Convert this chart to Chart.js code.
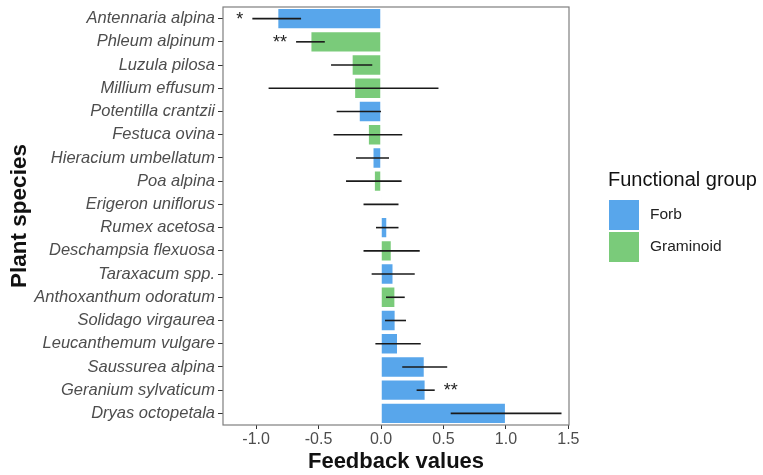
<!DOCTYPE html>
<html>
<head>
<meta charset="utf-8">
<script src="https://cdn.jsdelivr.net/npm/chart.js@4/dist/chart.umd.min.js"></script>
<style>
  html, body { margin: 0; padding: 0; background: #fff; }
  #wrap { width: 763px; height: 475px; }
</style>
</head>
<body>
<div id="wrap"><canvas id="chart" width="763" height="475"></canvas></div>
<script>
// data
const species = ['Antennaria alpina', 'Phleum alpinum', 'Luzula pilosa', 'Millium effusum',
    'Potentilla crantzii', 'Festuca ovina', 'Hieracium umbellatum', 'Poa alpina',
    'Erigeron uniflorus', 'Rumex acetosa', 'Deschampsia flexuosa', 'Taraxacum spp.',
    'Anthoxanthum odoratum', 'Solidago virgaurea', 'Leucanthemum vulgare',
    'Saussurea alpina', 'Geranium sylvaticum', 'Dryas octopetala'];
const groups = ['Forb', 'Graminoid', 'Graminoid', 'Graminoid', 'Forb', 'Graminoid', 'Forb', 'Graminoid',
    'Forb', 'Forb', 'Graminoid', 'Forb', 'Graminoid', 'Forb', 'Forb', 'Forb', 'Forb', 'Forb'];
const feedback = [-0.83, -0.565, -0.235, -0.215, -0.178, -0.105, -0.068, -0.057,
    0.003, 0.05, 0.086, 0.1, 0.115, 0.117, 0.136, 0.35, 0.357, 1.0];
const lower = [-1.03, -0.68, -0.40, -0.90, -0.355, -0.38, -0.20, -0.28,
    -0.14, -0.04, -0.14, -0.075, 0.04, 0.032, -0.045, 0.17, 0.285, 0.558];
const upper = [-0.64, -0.45, -0.07, 0.46, 0.0, 0.17, 0.064, 0.165,
    0.14, 0.14, 0.31, 0.27, 0.19, 0.20, 0.318, 0.53, 0.43, 1.445];
const signif = ['*', '**', '', '', '', '', '', '', '', '', '', '', '', '', '', '', '**', ''];
const xTicks = [-1.0, -0.5, 0.0, 0.5, 1.0, 1.5];

const groupNames = ['Forb', 'Graminoid'];
const groupColors = { Forb: '#58A6EB', Graminoid: '#7ACB7A' };
const FONT = '"Liberation Sans", Arial, sans-serif';

// error bars, significance stars, panel border and legend
const extras = {
    id: 'extras',
    afterDatasetsDraw(chart) {
        const c = chart.ctx;
        const xs = chart.scales.x, ys = chart.scales.y;
        c.save();
        c.strokeStyle = '#1a1a1a';
        c.lineWidth = 1.6;
        species.forEach((s, i) => {
            const y = ys.getPixelForValue(i);
            c.beginPath();
            c.moveTo(xs.getPixelForValue(lower[i]), y);
            c.lineTo(xs.getPixelForValue(upper[i]), y);
            c.stroke();
            if (signif[i]) {
                c.fillStyle = '#222';
                c.font = '18px ' + FONT;
                c.textBaseline = 'middle';
                if (feedback[i] < 0) {
                    c.textAlign = 'right';
                    c.fillText(signif[i], xs.getPixelForValue(lower[i]) - 9, y + 1);
                } else {
                    c.textAlign = 'left';
                    c.fillText(signif[i], xs.getPixelForValue(upper[i]) + 9, y + 1);
                }
            }
        });
        // panel border
        const a = chart.chartArea;
        c.strokeStyle = '#7f7f7f';
        c.lineWidth = 1.2;
        c.strokeRect(a.left, a.top, a.right - a.left, a.bottom - a.top);

        // legend
        c.fillStyle = '#111';
        c.font = '20px ' + FONT;
        c.textAlign = 'left';
        c.textBaseline = 'middle';
        c.fillText('Functional group', 608, 180);
        c.font = '15.5px ' + FONT;
        groupNames.forEach((g, k) => {
            c.fillStyle = groupColors[g];
            c.fillRect(609, 200 + k * 32, 30, 30);
            c.fillStyle = '#222';
            c.fillText(g, 650, 215 + k * 32);
        });
        c.restore();
    }
};

new Chart(document.getElementById('chart').getContext('2d'), {
    type: 'bar',
    data: {
        labels: species,
        datasets: [{
            data: feedback,
            backgroundColor: groups.map(g => groupColors[g]),
            borderColor: '#ffffff',
            borderWidth: 1,
            barPercentage: 0.92,
            categoryPercentage: 1.0
        }]
    },
    options: {
        indexAxis: 'y',
        responsive: false,
        animation: false,
        layout: { padding: { top: 7, right: 194, left: 6, bottom: 0 } },
        plugins: { legend: { display: false }, tooltip: { enabled: false } },
        scales: {
            x: {
                min: -1.265,
                max: 1.505,
                afterBuildTicks: axis => { axis.ticks = xTicks.map(v => ({ value: v })); },
                afterFit: axis => { axis.height = 50; },
                ticks: {
                    callback: v => Number(v).toFixed(1),
                    color: '#4d4d4d',
                    font: { family: FONT, size: 16 },
                    padding: 1
                },
                grid: { drawOnChartArea: false, tickLength: 4, color: '#333' },
                border: { display: false },
                title: {
                    display: true,
                    text: 'Feedback values',
                    color: '#111',
                    font: { family: FONT, size: 22, weight: 'bold' },
                    padding: { top: 2, bottom: 0 }
                }
            },
            y: {
                afterFit: axis => {
                    axis.width = 217;
                    axis.paddingTop = 0;
                    axis.paddingBottom = 0;
                },
                ticks: {
                    color: '#4d4d4d',
                    font: { family: FONT, size: 16.5, style: 'italic' },
                    padding: 3
                },
                grid: { drawOnChartArea: false, offset: false, tickLength: 5, color: '#333' },
                border: { display: false },
                title: {
                    display: true,
                    text: 'Plant species',
                    color: '#111',
                    font: { family: FONT, size: 22.5, weight: 'bold' },
                    padding: { top: 0, bottom: 0 }
                }
            }
        }
    },
    plugins: [extras]
});
</script>
</body>
</html>
